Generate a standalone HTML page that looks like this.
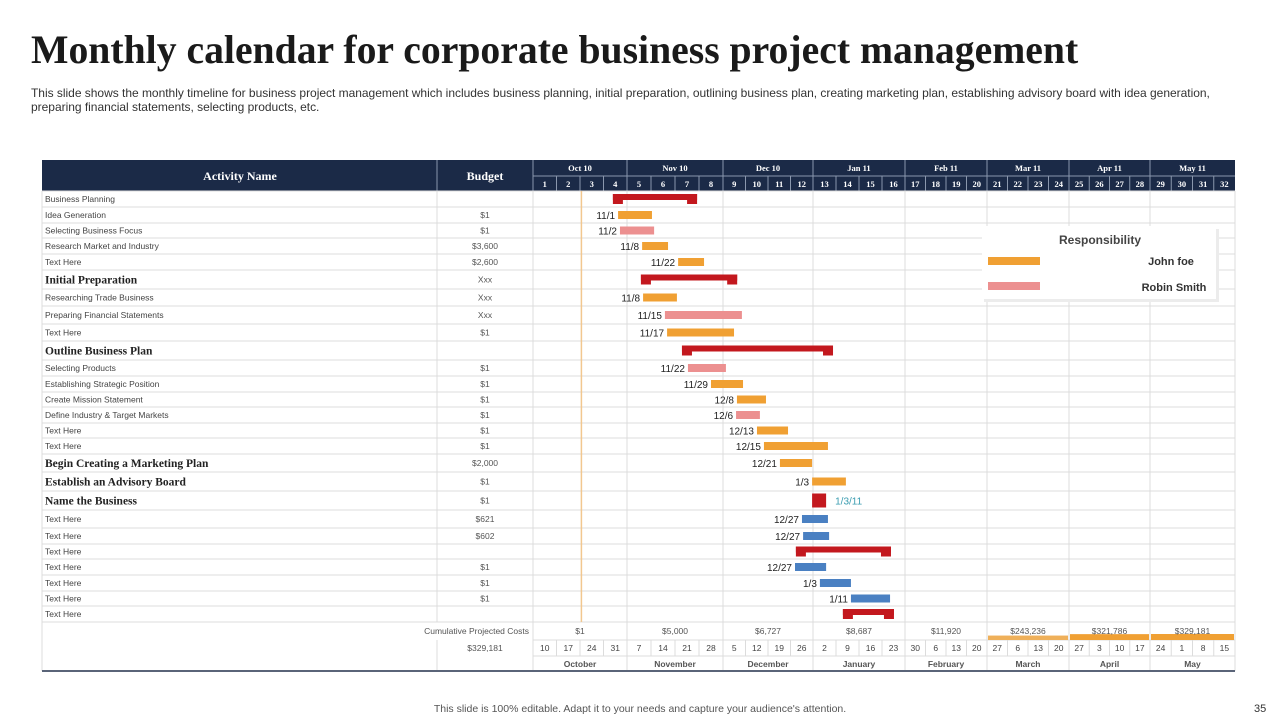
<!DOCTYPE html>
<html><head><meta charset="utf-8">
<style>
body{margin:0;background:#fff;width:1280px;height:720px;overflow:hidden;position:relative;font-family:"Liberation Sans",sans-serif}
#title{position:absolute;left:31px;top:27px;font-family:"Liberation Serif",serif;font-weight:bold;font-size:39.7px;color:#1a1a1a;margin:0;white-space:nowrap}
#sub{position:absolute;left:31px;top:86px;font-size:12px;line-height:14px;color:#333;width:1200px;letter-spacing:-0.02px}
#foot{position:absolute;left:0;width:1280px;top:703px;text-align:center;font-size:10.5px;color:#555}
#pg{position:absolute;left:1254px;top:703px;font-size:11px;color:#333}
svg{position:absolute;left:0;top:0}
</style></head><body>
<h1 id="title">Monthly calendar for corporate business project management</h1>
<div id="sub">This slide shows the monthly timeline for business project management which includes business planning, initial preparation, outlining business plan, creating marketing plan, establishing advisory board with idea generation, preparing financial statements, selecting products, etc.</div>
<div id="foot">This slide is 100% editable. Adapt it to your needs and capture your audience's attention.</div>
<div id="pg">35</div>
<svg id="chart" width="1280" height="720"></svg>
<script>
const months=["Oct 10","Nov 10","Dec 10","Jan 11","Feb 11","Mar 11","Apr 11","May 11"];
const monthNames=["October","November","December","January","February","March","April","May"];
const weekDates=[10,17,24,31,7,14,21,28,5,12,19,26,2,9,16,23,30,6,13,20,27,6,13,20,27,3,10,17,24,1,8,15];
const costs=["$1","$5,000","$6,727","$8,687","$11,920","$243,236","$321,786","$329,181"];
const costValues=[1,5000,6727,8687,11920,243236,321786,329181];
const activities=["Business Planning","Idea Generation","Selecting Business Focus","Research Market and Industry","Text Here","Initial Preparation","Researching Trade Business","Preparing Financial Statements","Text Here","Outline Business Plan","Selecting Products","Establishing Strategic Position","Create Mission Statement","Define Industry & Target Markets","Text Here","Text Here","Begin Creating a Marketing Plan","Establish  an Advisory Board","Name the Business","Text Here","Text Here","Text Here","Text Here","Text Here","Text Here","Text Here"];
const boldRows=[5,9,16,17,18];
const budgets=["","$1","$1","$3,600","$2,600","Xxx","Xxx","Xxx","$1","","$1","$1","$1","$1","$1","$1","$2,000","$1","$1","$621","$602","","$1","$1","$1",""];
const barStart=[3.40,3.62,3.70,4.63,6.13,4.58,4.67,5.58,5.67,6.29,6.54,7.50,8.62,8.58,9.51,9.82,10.53,11.96,11.96,11.51,11.56,11.24,11.20,12.30,13.65,13.30];
const barEnd=[6.92,5.04,5.13,5.71,7.21,8.63,6.08,8.84,8.49,12.87,8.13,8.89,9.91,9.64,10.89,12.65,11.96,13.43,12.57,12.65,12.70,15.39,12.57,13.65,15.35,15.52];
const barType=["sum","o","p","o","o","sum","o","p","o","sum","p","o","o","p","o","o","o","o","block","b","b","sum","b","b","b","sum"];
const barLabels=["","11/1","11/2","11/8","11/22","","11/8","11/15","11/17","","11/22","11/29","12/8","12/6","12/13","12/15","12/21","1/3","1/3/11","12/27","12/27","","12/27","1/3","1/11",""];
const todayWeek=2.06;

const monthEdges=[533,627,723,813,905,987,1069,1150,1235];
const rowEdges=[191,207,223,238,254,270,289,306,324,341,360,376,392,407,423,438,454,472,491,510,528,544,559,575,591,606,622];
const colors={o:"#f0a033",p:"#ec9090",b:"#4a80c2",sum:"#c3181e",block:"#c3181e"};
const svg=document.getElementById('chart');
const NS="http://www.w3.org/2000/svg";
function mk(t,a,p){const e=document.createElementNS(NS,t);for(const k in a)e.setAttribute(k,a[k]);(p||svg).appendChild(e);return e;}
function weekEdge(i){const m=Math.floor(i/4),f=i%4;if(m>=8)return monthEdges[8];return monthEdges[m]+(monthEdges[m+1]-monthEdges[m])*f/4;}
function xScale(w){const i=Math.floor(w);const a=weekEdge(i),b=weekEdge(i+1);return a+(b-a)*(w-i);}
const L=42,BUD=437,T0=533,R=1235;

let h=mk('rect',{x:L,y:160,width:R-L,height:31,fill:"#1b2a47"});

let t=mk('text',{x:240,y:180,'text-anchor':'middle','font-family':'Liberation Serif','font-weight':'bold','font-size':12,fill:'#fff'});t.textContent="Activity Name";

t=mk('text',{x:485,y:180,'text-anchor':'middle','font-family':'Liberation Serif','font-weight':'bold','font-size':12,fill:'#fff'});t.textContent="Budget";

mk('line',{x1:BUD,y1:160,x2:BUD,y2:191,stroke:'#8a97ad','stroke-width':1});
months.forEach((m,i)=>{
 const a=monthEdges[i],b=monthEdges[i+1];
 mk('line',{x1:a,y1:160,x2:a,y2:191,stroke:'#8a97ad'});
 const e=mk('text',{x:(a+b)/2,y:171,'text-anchor':'middle','font-family':'Liberation Serif','font-weight':'bold','font-size':8.5,fill:'#fff'});e.textContent=m;
 
});
mk('line',{x1:T0,y1:176,x2:R,y2:176,stroke:'#8a97ad'});
for(let i=0;i<32;i++){
 const a=weekEdge(i),b=weekEdge(i+1);
 if(i%4)mk('line',{x1:a,y1:176,x2:a,y2:191,stroke:'#8a97ad'});
 const e=mk('text',{x:(a+b)/2,y:187,'text-anchor':'middle','font-family':'Liberation Serif','font-weight':'bold','font-size':8.5,fill:'#fff'});e.textContent=i+1;
 
}
rowEdges.forEach(y=>mk('line',{x1:L,y1:y,x2:R,y2:y,stroke:'#dcdcdc'}));
[L,BUD,...monthEdges].forEach(x=>mk('line',{x1:x,y1:191,x2:x,y2:622,stroke:'#dcdcdc'}));
mk('line',{x1:L,y1:622,x2:L,y2:671,stroke:'#dcdcdc'});
mk('line',{x1:BUD,y1:640,x2:BUD,y2:671,stroke:'#dcdcdc'});
monthEdges.forEach(x=>mk('line',{x1:x,y1:622,x2:x,y2:671,stroke:'#dcdcdc'}));
mk('line',{x1:T0,y1:640,x2:R,y2:640,stroke:'#dcdcdc'});
mk('line',{x1:T0,y1:656,x2:R,y2:656,stroke:'#dcdcdc'});
for(let i=0;i<32;i++){if(i%4)mk('line',{x1:weekEdge(i),y1:640,x2:weekEdge(i),y2:656,stroke:'#dcdcdc'});}
mk('line',{x1:L,y1:671,x2:R,y2:671,stroke:'#5a6478','stroke-width':2});
const tl=mk('line',{x1:xScale(todayWeek),y1:191,x2:xScale(todayWeek),y2:622,stroke:'#f2c78f','stroke-width':1.5});


activities.forEach((a,i)=>{
 const y0=rowEdges[i],y1=rowEdges[i+1],cy=(y0+y1)/2;
 const bold=boldRows.includes(i);
 const e=mk('text',{x:45,y:cy+(bold?4:3),'font-family':bold?'Liberation Serif':'Liberation Sans','font-weight':bold?'bold':'normal','font-size':bold?11.5:8.5,fill:bold?'#222':'#444'});
 e.textContent=a;e.setAttribute('xml:space','preserve');
 
 if(budgets[i]){const b=mk('text',{x:485,y:cy+3,'text-anchor':'middle','font-size':8.5,fill:'#555'});b.textContent=budgets[i];
 }
 const xs=xScale(barStart[i]),xe=xScale(barEnd[i]),ty=barType[i],c=colors[ty];
 const g=mk('g',{});
 
 if(ty==='sum'){
  mk('rect',{x:xs,y:cy-5,width:xe-xs,height:6,fill:c},g);
  mk('rect',{x:xs,y:cy-5,width:10,height:10,fill:c},g);
  mk('rect',{x:xe-10,y:cy-5,width:10,height:10,fill:c},g);
 }else if(ty==='block'){
  mk('rect',{x:xs,y:cy-7,width:xe-xs,height:14,fill:c},g);
 }else{
  mk('rect',{x:xs,y:cy-4,width:xe-xs,height:8,fill:c},g);
 }
 if(barLabels[i]){
  const right=ty==='block';
  const l=mk('text',{x:right?xe+9:xs-3,y:cy+4,'text-anchor':right?'start':'end','font-size':10,fill:right?'#3a9cb0':'#222'});
  l.textContent=barLabels[i];
 }
});
t=mk('text',{x:529,y:634,'text-anchor':'end','font-size':8.5,fill:'#555'});t.textContent="Cumulative Projected Costs";

t=mk('text',{x:485,y:651,'text-anchor':'middle','font-size':8.5,fill:'#555'});t.textContent="$329,181";

const maxC=Math.max(...costValues);
costs.forEach((c,i)=>{
 const a=monthEdges[i],b=monthEdges[i+1];
 const hh=6*costValues[i]/maxC;
 if(hh>1){const r=mk('rect',{x:a+1,y:640-hh,width:b-a-2,height:hh,fill:i==5?'#efb05a':'#f0a033'});
 }
 const e=mk('text',{x:(a+b)/2,y:634,'text-anchor':'middle','font-size':8.5,fill:'#555'});e.textContent=c;
 
 const n=mk('text',{x:(a+b)/2,y:667,'text-anchor':'middle','font-size':8.5,'font-weight':'bold',fill:'#555'});n.textContent=monthNames[i];
 
});
weekDates.forEach((d,i)=>{
 const e=mk('text',{x:(weekEdge(i)+weekEdge(i+1))/2,y:651,'text-anchor':'middle','font-size':8.5,fill:'#444'});e.textContent=d;
 
});
const lg=mk('g',{});
mk('rect',{x:984,y:229,width:235,height:73,fill:'#ececec'},lg);
mk('rect',{x:982,y:226,width:234,height:73,fill:'#fff'},lg);
t=mk('text',{x:1100,y:244,'text-anchor':'middle','font-size':12,'font-weight':'bold',fill:'#444'},lg);t.textContent="Responsibility";
mk('rect',{x:988,y:257,width:52,height:8,fill:'#f0a033'},lg);
mk('rect',{x:988,y:282,width:52,height:8,fill:'#ec9090'},lg);
t=mk('text',{x:1171,y:265,'text-anchor':'middle','font-size':11,'font-weight':'bold',fill:'#333'},lg);t.textContent="John foe";

t=mk('text',{x:1174,y:291,'text-anchor':'middle','font-size':11,'font-weight':'bold',fill:'#333'},lg);t.textContent="Robin  Smith";
t.setAttribute('xml:space','preserve');

</script>
</body></html>
